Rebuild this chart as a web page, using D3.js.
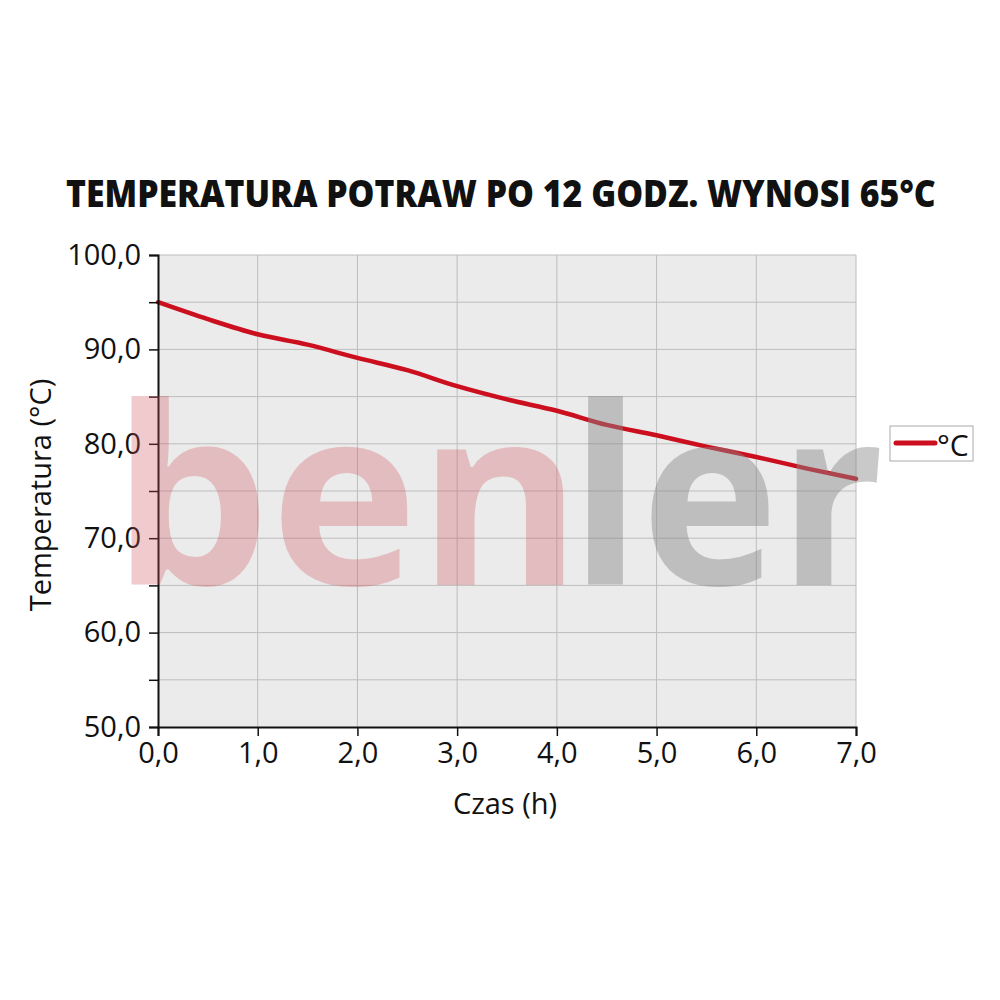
<!DOCTYPE html>
<html><head><meta charset="utf-8">
<script src="https://cdn.jsdelivr.net/npm/d3@7"></script>
<style>body{margin:0;background:#fff}svg{display:block}</style>
</head><body>
<script>
const hours = [0,0.5,1,1.5,2,2.5,3,3.5,4,4.5,5,5.5,6,6.5,7];
const temps = [95.0,93.2,91.6,90.5,89.1,87.8,86.1,84.7,83.5,82.0,80.9,79.7,78.6,77.4,76.3];
const xTicks = [0,1,2,3,4,5,6,7];
const yTicks = [50,55,60,65,70,75,80,85,90,95,100];
const yLabelTicks = [50,60,70,80,90,100];
const seriesName = "°C";
const title = "TEMPERATURA POTRAW PO 12 GODZ. WYNOSI 65°C";
const watermarkParts = ["ben","ler"];

const W=1000,H=1000;
const svg=d3.select("body").append("svg").attr("width",W).attr("height",H);
const L=158,R=856,T=255,B=727;
const x=d3.scaleLinear().domain([0,7]).range([L,R]);
const y=d3.scaleLinear().domain([50,100]).range([B,T]);
const fmt=d => d.toFixed(1).replace(".",",");
const font="'Open Sans', 'Noto Sans', sans-serif";

// fit a text element horizontally into [x0,x1] with baseline yb
function fitX(sel,x0,x1,yb){
  const bb=sel.node().getBBox();
  const sx=(x1-x0)/bb.width;
  sel.attr("x",0).attr("y",0).attr("transform",`translate(${x0-bb.x*sx},${yb}) scale(${sx},1)`);
}

const tt=svg.append("text").attr("font-family",font).attr("font-weight",800).attr("font-size",37).attr("fill","#111").text(title);
fitX(tt,66,936,207);

svg.append("rect").attr("x",L).attr("y",T).attr("width",R-L).attr("height",B-T).attr("fill","#ebebeb");
// grid
svg.append("g").selectAll("line").data(yTicks.filter(d=>d>50)).join("line")
  .attr("x1",L).attr("x2",R).attr("y1",d=>y(d)).attr("y2",d=>y(d)).attr("stroke","#bdbdbd").attr("stroke-width",1);
svg.append("g").selectAll("line").data(xTicks.filter(d=>d>0)).join("line")
  .attr("y1",T).attr("y2",B).attr("x1",d=>x(d)).attr("x2",d=>x(d)).attr("stroke","#bdbdbd").attr("stroke-width",1);

// line
const line=d3.line().x((d,i)=>x(hours[i])).y(d=>y(d)).curve(d3.curveMonotoneX);
svg.append("path").attr("d",line(temps)).attr("fill","none").attr("stroke","#cc0f1f").attr("stroke-width",4.5).attr("stroke-linecap","round");

// axes
const yAxis=d3.axisLeft(y).tickValues(yTicks).tickSize(9).tickFormat(d=>yLabelTicks.includes(d)?fmt(d):"");
const gy=svg.append("g").attr("transform",`translate(${L},0)`).call(yAxis);
const xAxis=d3.axisBottom(x).tickValues(xTicks).tickSize(9).tickFormat(fmt);
const gx=svg.append("g").attr("transform",`translate(0,${B})`).call(xAxis);
[gy,gx].forEach(g=>{
  g.select(".domain").attr("stroke","#111").attr("stroke-width",2);
  g.selectAll(".tick line").attr("stroke","#111").attr("stroke-width",1.5);
  g.selectAll("text").attr("font-family",font).attr("font-size",29).attr("fill","#111");
});
gy.selectAll("text").attr("x",-17);
gx.selectAll("text").attr("y",15);

svg.append("text").attr("x",505).attr("y",814).attr("text-anchor","middle")
  .attr("font-family",font).attr("font-size",29).attr("fill","#111").text("Czas (h)");
svg.append("text").attr("transform","translate(51,495) rotate(-90)").attr("text-anchor","middle")
  .attr("font-family",font).attr("font-size",29).attr("fill","#111").text("Temperatura (°C)");

// watermark
const wmRange=[[112,582],[570,884]];
const wmCol=["#d0505a","#888"];
const wmOp=[0.3,0.45];
const wm=svg.append("g");
watermarkParts.forEach((w,i)=>{
  const t=wm.append("text").attr("font-family","'Open Sans', sans-serif").attr("font-weight",700).attr("font-size",248)
    .attr("fill",wmCol[i]).attr("fill-opacity",wmOp[i]).text(w);
  fitX(t,wmRange[i][0],wmRange[i][1],585);
});

// legend
svg.append("rect").attr("x",890).attr("y",426).attr("width",83).attr("height",35).attr("fill","#fff").attr("stroke","#aaa").attr("stroke-width",1);
svg.append("line").attr("x1",896).attr("x2",935).attr("y1",443).attr("y2",443).attr("stroke","#cc0f1f").attr("stroke-width",5).attr("stroke-linecap","round");
svg.append("text").attr("x",937).attr("y",456).attr("font-family",font).attr("font-size",30).attr("fill","#111").text(seriesName);
</script>
</body></html>
